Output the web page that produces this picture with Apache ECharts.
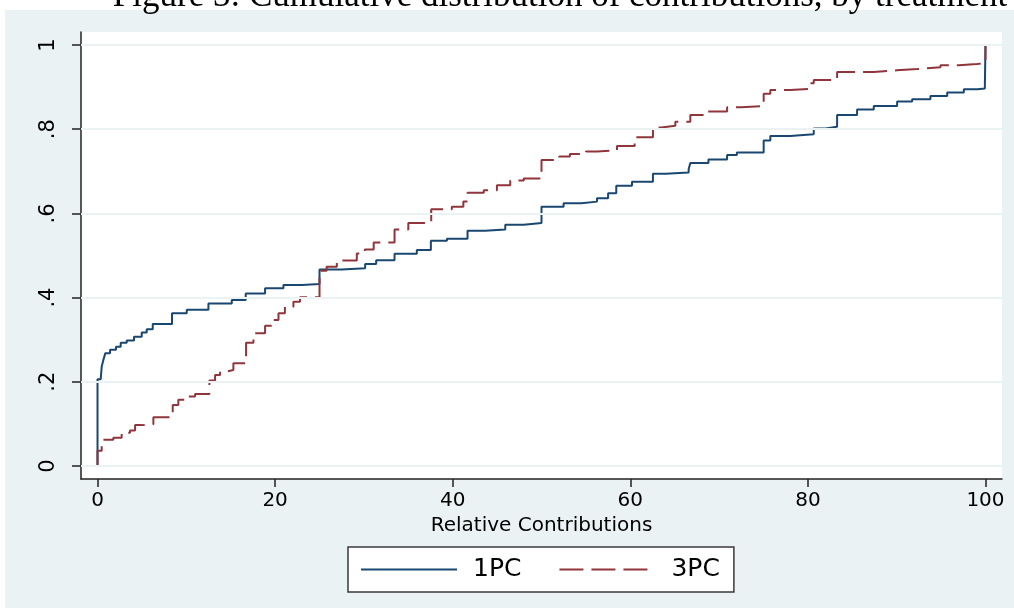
<!DOCTYPE html>
<html>
<head>
<meta charset="utf-8">
<script src="https://cdn.jsdelivr.net/npm/echarts@6/dist/echarts.min.js"></script>
<style>
html,body{margin:0;padding:0;background:#fff;}
#bg{position:absolute;left:5px;top:10px;width:1009px;height:598px;background:#eaf2f3;}
#chart{position:absolute;left:0;top:0;width:1014px;height:608px;}
</style>
</head>
<body>
<div id="bg"></div>
<div id="chart"></div>
<script>
const titleText = 'Figure 3: Cumulative distribution of contributions, by treatment';
const xAxisName = 'Relative Contributions';
const seriesNames = ['1PC', '3PC'];
const xTicks = [0, 20, 40, 60, 80, 100];
const yTicks = [0, 0.2, 0.4, 0.6, 0.8, 1];
const yTickLabels = ['0', '.2', '.4', '.6', '.8', '1'];

// 1PC empirical CDF step points (x = contribution, y = cumulative share)
const pc1X = [0, 0, 0.36, 0.47, 0.66, 0.88, 1.41, 2.08, 2.61, 3.29, 4.11, 4.98, 5.54, 6.22, 8.39, 10.05, 12.49, 15.12, 16.69, 18.87, 20.94, 23, 25, 27.5, 30.14, 31.38, 33.45, 35.96, 37.54, 39.35, 41.67, 43.66, 45.92, 48, 50, 52.49, 54.5, 56.25, 57.5, 58.42, 60.19, 62.55, 64, 66.57, 66.76, 68.8, 70.9, 72, 75.02, 75.77, 78, 80.66, 82, 83.29, 85.54, 87.42, 90.05, 91.74, 93.8, 95.69, 97.56, 99.1, 99.93, 100];
const pc1Y = [0, 0.206, 0.21, 0.236, 0.252, 0.268, 0.276, 0.283, 0.293, 0.298, 0.307, 0.317, 0.325, 0.337, 0.363, 0.371, 0.386, 0.394, 0.41, 0.422, 0.43, 0.432, 0.467, 0.47, 0.48, 0.489, 0.504, 0.513, 0.535, 0.54, 0.559, 0.562, 0.573, 0.577, 0.616, 0.624, 0.628, 0.636, 0.648, 0.666, 0.675, 0.694, 0.697, 0.705, 0.72, 0.728, 0.739, 0.745, 0.773, 0.784, 0.788, 0.802, 0.806, 0.834, 0.847, 0.855, 0.866, 0.871, 0.879, 0.887, 0.895, 0.897, 0.903, 1.0];

// 3PC empirical CDF step points
const pc3X = [0, 0, 0.47, 1.78, 2.72, 3.66, 4.23, 4.98, 6.29, 8.47, 9.1, 10.23, 10.99, 12.6, 13.24, 13.8, 14.5, 15.3, 16.73, 17.56, 18.87, 19.6, 20.38, 21.1, 22.06, 22.8, 25, 25.8, 26.95, 29.2, 30.1, 31.1, 33.45, 35, 37.58, 39.9, 41.2, 41.67, 43.5, 44.98, 46.48, 48, 50, 52, 53.2, 55, 56.25, 58.5, 60.49, 62.55, 63.5, 65.07, 66.76, 68.64, 70.9, 72.5, 75.02, 75.77, 78, 80.28, 80.66, 83.29, 87.42, 90, 92.3, 94.93, 97, 99.06, 100];
const pc3Y = [0, 0.036, 0.062, 0.067, 0.079, 0.084, 0.097, 0.099, 0.116, 0.145, 0.157, 0.165, 0.171, 0.203, 0.216, 0.224, 0.228, 0.244, 0.293, 0.315, 0.333, 0.347, 0.363, 0.378, 0.39, 0.401, 0.464, 0.473, 0.488, 0.505, 0.514, 0.531, 0.562, 0.577, 0.61, 0.616, 0.628, 0.649, 0.655, 0.667, 0.678, 0.683, 0.727, 0.735, 0.741, 0.747, 0.75, 0.76, 0.781, 0.804, 0.808, 0.818, 0.834, 0.842, 0.852, 0.855, 0.884, 0.893, 0.896, 0.909, 0.917, 0.936, 0.94, 0.943, 0.947, 0.952, 0.955, 0.957, 1.0];

const pair = (xs, ys) => xs.map((x, i) => [x, ys[i]]);
const FONT = 'DejaVu Sans';

const chart = echarts.init(document.getElementById('chart'), null, {renderer: 'canvas'});
chart.setOption({
  backgroundColor: 'transparent',
  animation: false,
  graphic: [{
    type: 'text',
    x: 560, y: 14,
    style: {
      text: titleText,
      align: 'center',
      verticalAlign: 'bottom',
      font: '35px "Liberation Serif"',
      lineHeight: 35,
      fill: '#000'
    }
  }],
  grid: {
    left: 81, right: 12, top: 32, bottom: 129,
    show: true, backgroundColor: '#ffffff', borderWidth: 0
  },
  legend: {
    data: seriesNames,
    left: 348, top: 547,
    orient: 'horizontal',
    backgroundColor: '#ffffff',
    borderColor: '#3a3a3a',
    borderWidth: 1.5,
    borderRadius: 0,
    padding: [10, 14, 10, 12],
    itemWidth: 96,
    itemHeight: 20,
    itemGap: 37,
    itemStyle: {color: 'rgba(0,0,0,0)', borderColor: 'rgba(0,0,0,0)', borderWidth: 0},
    textStyle: {fontFamily: FONT, fontSize: 25, color: '#000', padding: [0, 0, 0, 11], lineHeight: 20}
  },
  xAxis: {
    type: 'value',
    min: -1.86, max: 101.86,
    name: xAxisName,
    nameLocation: 'middle',
    nameGap: 33,
    nameTextStyle: {fontFamily: FONT, fontSize: 20, color: '#000', verticalAlign: 'top'},
    axisLine: {show: true, onZero: false, lineStyle: {color: '#222', width: 1.5}},
    axisTick: {show: true, length: 8, customValues: xTicks, lineStyle: {color: '#222', width: 1.5}},
    axisLabel: {customValues: xTicks, margin: 12, fontFamily: FONT, fontSize: 20, color: '#000'},
    splitLine: {show: false}
  },
  yAxis: {
    type: 'value',
    min: -0.031, max: 1.031,
    axisLine: {show: true, onZero: false, lineStyle: {color: '#222', width: 1.5}},
    axisTick: {show: true, length: 9, customValues: yTicks, lineStyle: {color: '#222', width: 1.5}},
    axisLabel: {
      customValues: yTicks, rotate: 90, margin: 22,
      fontFamily: FONT, fontSize: 21, color: '#000',
      formatter: v => { const i = yTicks.findIndex(t => Math.abs(t - v) < 1e-9); return i >= 0 ? yTickLabels[i] : ''; }
    },
    splitLine: {show: false}
  },
  series: [
    {
      name: 'grid', type: 'line', data: [], z: 1, silent: true,
      markLine: {
        silent: true, symbol: 'none', label: {show: false},
        lineStyle: {color: '#eaf2f3', width: 2, type: 'solid'},
        data: yTicks.map(v => ({yAxis: v}))
      }
    },
    {
      name: seriesNames[0], type: 'line', step: 'end', z: 2,
      data: pair(pc1X, pc1Y), symbol: 'none', showSymbol: false,
      lineStyle: {color: '#1a476f', width: 2, type: 'solid'},
      itemStyle: {color: '#1a476f'}
    },
    {
      name: seriesNames[1], type: 'line', step: 'end', z: 3,
      data: pair(pc3X, pc3Y), symbol: 'none', showSymbol: false,
      lineStyle: {color: '#90353b', width: 2, type: [24, 8]},
      itemStyle: {color: '#90353b'}
    }
  ]
});
</script>
</body>
</html>
